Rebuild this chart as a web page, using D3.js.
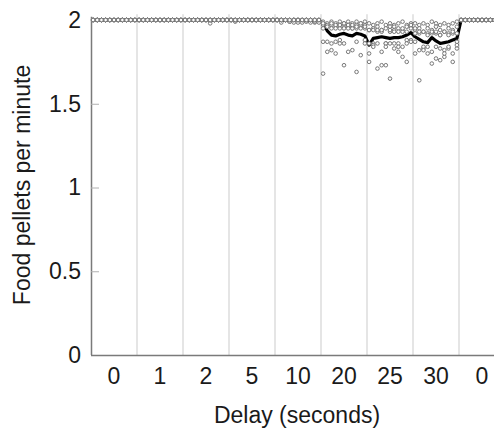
<!DOCTYPE html>
<html>
<head>
<meta charset="utf-8">
<script src="https://cdn.jsdelivr.net/npm/d3@7"></script>
<style>
  html, body { margin: 0; padding: 0; background: #fff; }
  svg { display: block; font-family: "Liberation Sans", Arial, Helvetica, sans-serif; }
</style>
</head>
<body>
<svg id="chart" width="494" height="429"></svg>
<script>
// Delay condition for each block of sessions, in order
const sessionLabels = ["0", "1", "2", "5", "10", "20", "25", "30", "0"];
const trialsPerSession = 11;
const yTickValues = [0, 0.5, 1, 1.5, 2];
const yTickLabels = ["0", "0.5", "1", "1.5", "2"];

// Group mean (pellets per minute) for each trial of each block
const meanRate = [
  [2, 2, 2, 2, 2, 2, 2, 2, 2, 2, 2],
  [2, 2, 2, 2, 2, 2, 2, 2, 2, 2, 2],
  [2, 2, 2, 2, 2, 2, 1.998, 2, 2, 2, 2],
  [2, 1.998, 2, 2, 2, 2, 2, 2, 2, 2, 2],
  [2, 1.997, 2, 1.996, 1.997, 1.995, 1.995, 1.996, 1.994, 1.993, 1.994],
  [1.985, 1.935, 1.91, 1.905, 1.915, 1.92, 1.91, 1.905, 1.92, 1.915, 1.905],
  [1.85, 1.89, 1.895, 1.9, 1.895, 1.89, 1.895, 1.895, 1.9, 1.91, 1.925],
  [1.9, 1.885, 1.87, 1.865, 1.895, 1.875, 1.86, 1.865, 1.87, 1.88, 1.89],
  [2, 2, 2, 2, 2, 2, 2, 2, 2, 2, 2]
];

// Individual animals (one row each) for every block
const ratRates = [
  [
    [2, 2, 2, 2, 2, 2, 2, 2, 2, 2, 2],
    [2, 2, 2, 2, 2, 2, 2, 2, 2, 2, 2],
    [2, 2, 2, 2, 2, 2, 2, 2, 2, 2, 2],
    [2, 2, 2, 2, 2, 2, 2, 2, 2, 2, 2],
    [2, 2, 2, 2, 2, 2, 2, 2, 2, 2, 2],
    [2, 2, 2, 2, 2, 2, 2, 2, 2, 2, 2]
  ],
  [
    [2, 2, 2, 2, 2, 2, 2, 2, 2, 2, 2],
    [2, 2, 2, 2, 2, 2, 2, 2, 2, 2, 2],
    [2, 2, 2, 2, 2, 2, 2, 2, 2, 2, 2],
    [2, 2, 2, 2, 2, 2, 2, 2, 2, 2, 2],
    [2, 2, 2, 2, 2, 2, 2, 2, 2, 2, 2],
    [2, 2, 2, 2, 2, 2, 2, 2, 2, 2, 2]
  ],
  [
    [2, 2, 2, 2, 2, 2, 2, 2, 2, 2, 2],
    [2, 2, 2, 2, 2, 2, 1.98, 2, 2, 2, 2],
    [2, 2, 2, 2, 2, 2, 2, 2, 2, 2, 2],
    [2, 2, 2, 2, 2, 2, 2, 2, 2, 2, 2],
    [2, 2, 2, 2, 2, 2, 2, 2, 2, 2, 2],
    [2, 2, 2, 2, 2, 2, 2, 2, 2, 2, 2]
  ],
  [
    [2, 2, 2, 2, 2, 2, 2, 2, 2, 2, 2],
    [2, 1.99, 2, 2, 2, 2, 2, 2, 2, 2, 2],
    [2, 2, 2, 2, 2, 2, 2, 2, 2, 2, 2],
    [2, 2, 2, 2, 2, 2, 2, 2, 2, 2, 2],
    [2, 2, 2, 2, 2, 2, 2, 2, 2, 2, 2],
    [2, 2, 2, 2, 2, 2, 2, 2, 2, 2, 2]
  ],
  [
    [2, 2, 2, 2, 2, 2, 2, 2, 2, 2, 2],
    [2, 1.985, 2, 1.99, 2, 1.985, 1.99, 2, 1.985, 1.985, 1.99],
    [2, 2, 2, 1.99, 1.985, 2, 1.985, 1.99, 2, 1.99, 1.985],
    [2, 2, 2, 2, 2, 2, 2, 2, 2, 2, 2],
    [2, 2, 2, 2, 2, 2, 2, 2, 2, 2, 2],
    [2, 2, 2, 2, 2, 2, 2, 2, 2, 2, 2]
  ],
  [
    [1.99, 1.98, 1.99, 1.98, 1.99, 1.98, 1.99, 1.98, 1.99, 1.98, 1.99],
    [1.97, 1.96, 1.97, 1.96, 1.97, 1.96, 1.97, 1.96, 1.97, 1.96, 1.97],
    [1.95, 1.97, 1.95, 1.97, 1.95, 1.95, 1.96, 1.95, 1.95, 1.97, 1.95],
    [1.87, 1.87, 1.86, 1.87, 1.88, 1.86, 1.97, 1.95, 1.96, 1.95, 1.88],
    [1.98, 1.81, 1.82, 1.80, 1.86, 1.73, 1.81, 1.82, 1.87, 1.79, 1.86],
    [1.68, 1.96, 1.98, 1.95, 1.97, 1.98, 1.95, 1.97, 1.69, 1.98, 1.96]
  ],
  [
    [1.98, 1.97, 1.98, 1.99, 1.97, 1.98, 1.97, 1.98, 1.99, 1.97, 1.98],
    [1.94, 1.95, 1.96, 1.94, 1.95, 1.96, 1.96, 1.95, 1.94, 1.96, 1.96],
    [1.86, 1.94, 1.93, 1.93, 1.86, 1.93, 1.94, 1.93, 1.93, 1.88, 1.95],
    [1.80, 1.86, 1.71, 1.81, 1.86, 1.86, 1.83, 1.81, 1.78, 1.86, 1.88],
    [1.75, 1.85, 1.86, 1.73, 1.84, 1.65, 1.86, 1.86, 1.84, 1.75, 1.87],
    [1.94, 1.84, 1.94, 1.94, 1.73, 1.94, 1.93, 1.84, 1.95, 1.93, 1.97]
  ],
  [
    [1.98, 1.97, 1.98, 1.97, 1.99, 1.98, 1.97, 1.98, 1.97, 1.98, 1.99],
    [1.94, 1.95, 1.93, 1.95, 1.94, 1.96, 1.94, 1.93, 1.95, 1.94, 1.96],
    [1.87, 1.92, 1.93, 1.92, 1.92, 1.92, 1.91, 1.93, 1.92, 1.92, 1.87],
    [1.80, 1.82, 1.83, 1.84, 1.81, 1.84, 1.76, 1.82, 1.83, 1.80, 1.83],
    [1.92, 1.64, 1.84, 1.80, 1.74, 1.77, 1.91, 1.78, 1.84, 1.75, 1.92],
    [1.95, 1.93, 1.82, 1.91, 1.93, 1.93, 1.83, 1.80, 1.91, 1.93, 1.85]
  ],
  [
    [2, 2, 2, 2, 2, 2, 2, 2, 2, 2, 2],
    [2, 2, 2, 2, 2, 2, 2, 2, 2, 2, 2],
    [2, 2, 2, 2, 2, 2, 2, 2, 2, 2, 2],
    [2, 2, 2, 2, 2, 2, 2, 2, 2, 2, 2],
    [2, 2, 2, 2, 2, 2, 2, 2, 2, 2, 2],
    [2, 2, 2, 2, 2, 2, 2, 2, 2, 2, 2]
  ]
];

const svg = d3.select("#chart");
const plotLeft = 91, bandW = 46, plotBottom = 355, plotTop = 20;
const plotRight = plotLeft + bandW * sessionLabels.length;

// one band per block of sessions (block labels repeat, so index them)
const x = d3.scaleBand()
  .domain(d3.range(sessionLabels.length))
  .range([plotLeft, plotRight])
  .paddingInner(0).paddingOuter(0);

// position of a trial inside its block
const trialScale = d3.scaleLinear().domain([0, trialsPerSession]).range([0, x.bandwidth()]);
const trialX = (s, t) => x(s) + trialScale(t + 0.5);

const y = d3.scaleLinear().domain([0, 2]).range([plotBottom, plotTop]);

// vertical separators between blocks
const boundaryX = i => (i < sessionLabels.length ? x(i) : plotRight);
svg.append("g")
  .selectAll("line")
  .data(d3.range(1, sessionLabels.length + 1))
  .join("line")
  .attr("x1", boundaryX)
  .attr("x2", boundaryX)
  .attr("y1", y(0))
  .attr("y2", y(2.035))
  .attr("stroke", "#dcdcdc")
  .attr("stroke-width", 1.5);

// left axis
const yAxis = d3.axisLeft(y)
  .tickValues(yTickValues)
  .tickFormat((d, i) => yTickLabels[i])
  .tickSizeInner(-8)
  .tickSizeOuter(0)
  .tickPadding(10);
const gy = svg.append("g").attr("transform", `translate(${plotLeft},0)`).call(yAxis);
gy.select(".domain").attr("stroke", "#7a7a7a").attr("stroke-width", 1.5)
  .attr("d", `M0.5,${y(2.02)}V${plotBottom}`);
gy.selectAll(".tick line").attr("stroke", "#b0b0b0").attr("stroke-width", 1);
gy.selectAll(".tick text")
  .attr("font-size", 23).attr("fill", "#1a1a1a")
  .attr("font-family", "'Liberation Sans', Arial, sans-serif");

// bottom axis
const xAxis = d3.axisBottom(x)
  .tickFormat(i => sessionLabels[i])
  .tickSize(0)
  .tickPadding(12.5);
const gx = svg.append("g").attr("transform", `translate(0,${plotBottom})`).call(xAxis);
gx.select(".domain").attr("stroke", "#7a7a7a").attr("stroke-width", 1.5)
  .attr("d", `M${plotLeft},0.5H${plotRight}`);
gx.selectAll(".tick text")
  .attr("font-size", 23).attr("fill", "#1a1a1a")
  .attr("font-family", "'Liberation Sans', Arial, sans-serif");

// mean line across all trials
const meanPoints = [];
meanRate.forEach((row, s) => row.forEach((v, t) => meanPoints.push({ s, t, v })));
const line = d3.line()
  .x(d => trialX(d.s, d.t))
  .y(d => y(d.v))
  .curve(d3.curveLinear);
svg.append("path")
  .datum(meanPoints)
  .attr("fill", "none")
  .attr("stroke", "#000")
  .attr("stroke-width", 3.2)
  .attr("stroke-linejoin", "round")
  .attr("d", line);

// individual animals
const dots = [];
ratRates.forEach((rats, s) => rats.forEach(row => row.forEach((v, t) => dots.push({ s, t, v }))));
svg.append("g")
  .selectAll("circle")
  .data(dots)
  .join("circle")
  .attr("cx", d => trialX(d.s, d.t))
  .attr("cy", d => y(d.v))
  .attr("r", 1.8)
  .attr("fill", "#ffffff")
  .attr("stroke", "#777777")
  .attr("stroke-width", 1);

// axis titles
svg.append("text")
  .attr("x", (plotLeft + plotRight) / 2 - 1)
  .attr("y", 423)
  .attr("text-anchor", "middle")
  .attr("font-size", 23)
  .attr("fill", "#1a1a1a")
  .text("Delay (seconds)");

svg.append("text")
  .attr("transform", "translate(30,185) rotate(-90)")
  .attr("text-anchor", "middle")
  .attr("font-size", 23)
  .attr("fill", "#1a1a1a")
  .text("Food pellets per minute");
</script>
</body>
</html>
